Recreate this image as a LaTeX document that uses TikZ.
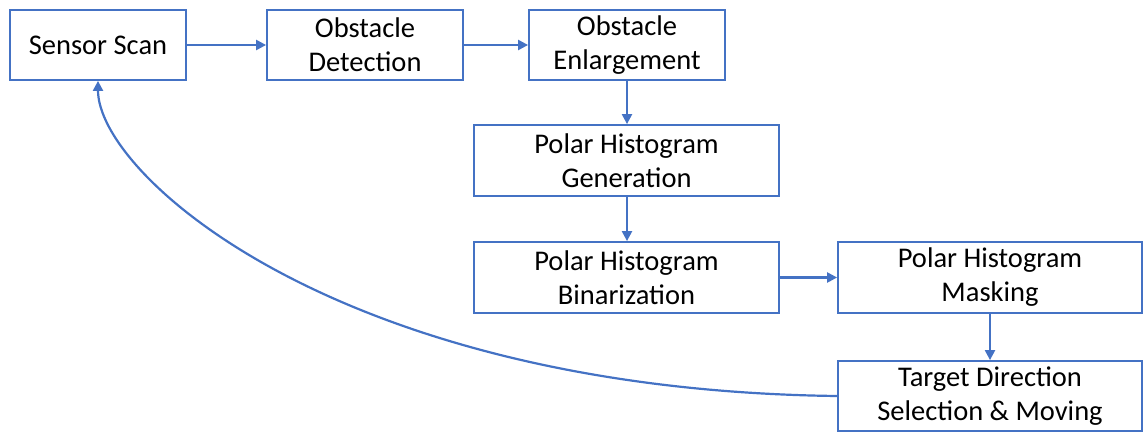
\documentclass[tikz,border=0pt]{standalone}
\usepackage{fontspec}
\setmainfont{Carlito}
\usetikzlibrary{arrows.meta}
\definecolor{flowblue}{HTML}{4472C4}
\tikzset{
  stage/.style={draw=flowblue, line width=1.8pt, fill=white, align=center,
    inner sep=0pt, font=\fontsize{28.5}{34}\selectfont, text=black},
  flow/.style={draw=flowblue, line width=2.2pt,
    -{Triangle[length=10pt,width=10pt]}},
}
\begin{document}
\begin{tikzpicture}[x=1pt,y=-1pt]
  \useasboundingbox (0,0) rectangle (1143,431);
  \node[stage, minimum width=176pt, minimum height=70pt] (scan) at (98,45) {Sensor Scan};
  \node[stage, minimum width=196pt, minimum height=70pt] (detect) at (365,45) {Obstacle\\Detection};
  \node[stage, minimum width=196pt, minimum height=70pt] (enlarge) at (627,45) {Obstacle\\Enlargement};
  \node[stage, minimum width=305pt, minimum height=71pt] (gen) at (626.5,160.5) {Polar Histogram\\Generation};
  \node[stage, minimum width=305pt, minimum height=71pt] (bin) at (626.5,277.5) {Polar Histogram\\Binarization};
  \node[stage, minimum width=304pt, minimum height=71pt] (mask) at (990,277.5) {Polar Histogram\\Masking};
  \node[stage, minimum width=304pt, minimum height=70pt] (target) at (990,396) {Target Direction\\Selection \& Moving};

  \draw[flow] (scan.east) -- (detect.west);
  \draw[flow] (detect.east) -- (enlarge.west);
  \draw[flow] (enlarge.south) -- (gen.north -| enlarge.south);
  \draw[flow] (gen.south -| enlarge.south) -- (bin.north -| enlarge.south);
  \draw[flow] (bin.east) -- (mask.west);
  \draw[flow] (mask.south) -- (target.north);
  \draw[flow] (target.west) .. controls (338,390) and (98,175) .. (scan.south);
\end{tikzpicture}
\end{document}
